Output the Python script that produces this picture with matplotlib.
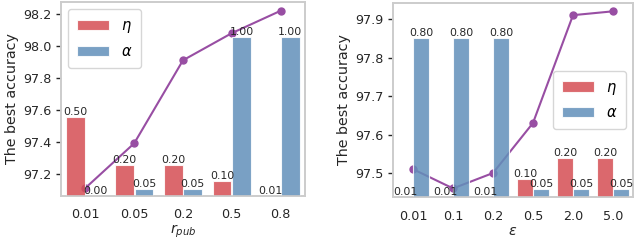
import numpy as np
import matplotlib
matplotlib.use("Agg")
import matplotlib.pyplot as plt

# left panel: r_pub
rpub_labels = ["0.01", "0.05", "0.2", "0.5", "0.8"]
rpub_acc = [97.11, 97.39, 97.91, 98.08, 98.22]
rpub_eta = [0.50, 0.20, 0.20, 0.10, 0.01]
rpub_alpha = [0.00, 0.05, 0.05, 1.00, 1.00]

# right panel: epsilon
eps_labels = ["0.01", "0.1", "0.2", "0.5", "2.0", "5.0"]
eps_acc = [97.51, 97.46, 97.50, 97.63, 97.91, 97.92]
eps_eta = [0.01, 0.01, 0.01, 0.10, 0.20, 0.20]
eps_alpha = [0.80, 0.80, 0.80, 0.05, 0.05, 0.05]

red = "#d54d54"
blue = "#6290ba"
purple = "#984ea3"
spine_col = "#cccccc"


def panel(ax, labels, acc, eta, alpha, ylim, yticks, bar_top, xlabel, legend_loc):
    x = np.arange(len(labels))
    ax.plot(x, acc, color=purple, marker="o", markersize=5, linewidth=1.5, zorder=2)
    ax.set_ylim(*ylim)
    ax.set_yticks(yticks)
    ax.set_xlim(-0.5, len(labels) - 0.5)
    ax.set_xticks(x)
    ax.set_xticklabels(labels)
    ax.set_ylabel("The best accuracy", fontsize=10.3, color="#262626", labelpad=3)
    ax.set_xlabel(xlabel, fontsize=10.3, color="#262626", labelpad=1)
    ax.tick_params(axis="y", length=3.5, width=1, labelsize=9.2, colors="#262626")
    ax.tick_params(axis="x", length=0, labelsize=9.2, colors="#262626", pad=9)

    ax2 = ax.twinx()
    w = 0.38
    b1 = ax2.bar(x - 0.2, eta, width=w, color=red, alpha=0.85,
                 edgecolor="white", linewidth=0.8, label=r"$\eta$")
    b2 = ax2.bar(x + 0.2, alpha, width=w, color=blue, alpha=0.85,
                 edgecolor="white", linewidth=0.8, label=r"$\alpha$")
    ax2.set_ylim(0.008, bar_top)
    ax2.set_yticks([])
    for bars, vals in ((b1, eta), (b2, alpha)):
        for r, v in zip(bars, vals):
            ax2.text(r.get_x() + r.get_width() / 2, max(r.get_height(), 0.008),
                     f"{v:.2f}", ha="center", va="bottom", fontsize=7.8,
                     color="#262626")
    leg = ax2.legend(loc=legend_loc, fontsize=10.5, handlelength=2.2,
                     borderpad=0.6, labelspacing=0.6, frameon=True)
    leg.get_frame().set_edgecolor(spine_col)
    for a in (ax, ax2):
        for s in a.spines.values():
            s.set_color(spine_col)
            s.set_linewidth(1.2)
    return ax2


fig = plt.figure(figsize=(6.4, 2.41), dpi=100)
ax_l = fig.add_axes([61 / 640, 45 / 241, 244 / 640, 194 / 241])
ax_r = fig.add_axes([393 / 640, 44 / 241, 240 / 640, 194 / 241])

panel(ax_l, rpub_labels, rpub_acc, rpub_eta, rpub_alpha,
      (97.06, 98.275), [97.2, 97.4, 97.6, 97.8, 98.0, 98.2], 1.215,
      r"$r_{pub}$", "upper left")
panel(ax_r, eps_labels, eps_acc, eps_eta, eps_alpha,
      (97.4377, 97.9416), [97.5, 97.6, 97.7, 97.8, 97.9], 0.973,
      r"$\epsilon$", "center right")

fig.savefig("out.png", dpi=100)
